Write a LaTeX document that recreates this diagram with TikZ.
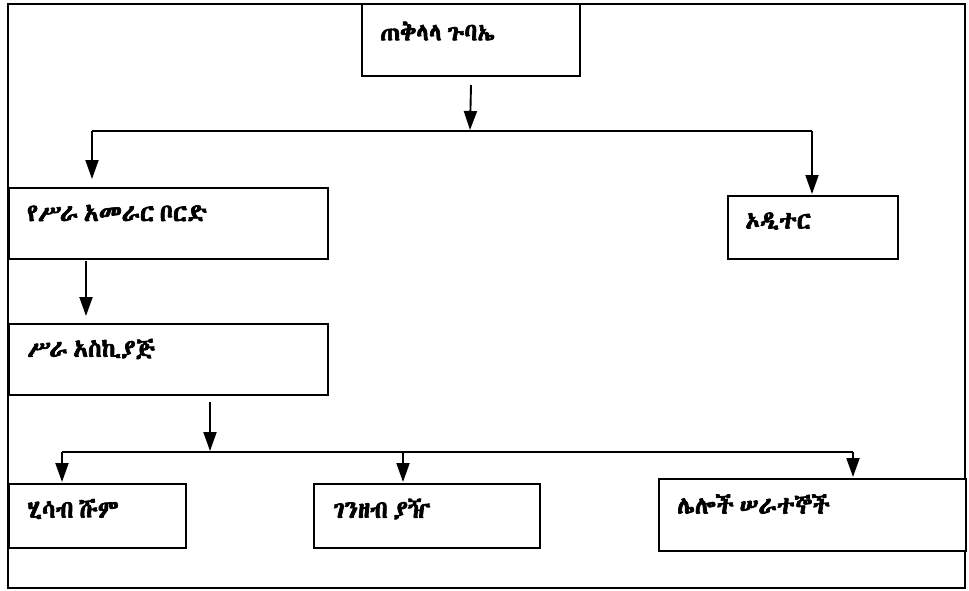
\documentclass[tikz,border=0pt]{standalone}
\usepackage{fontspec}
\IfFontExistsTF{Abyssinica SIL}
  {\newfontfamily\ethfont[FakeBold=2.8,WordSpace=0.5]{Abyssinica SIL}}
  {\IfFontExistsTF{NotoSansEthiopic-Bold.ttf}
    {\newfontfamily\ethfont{NotoSansEthiopic-Bold.ttf}}
    {\newfontfamily\ethfont{Noto Sans Ethiopic}}}
\usetikzlibrary{arrows.meta,calc}
\tikzset{
  box/.style={draw=black, line width=2pt, fill=white, inner sep=0pt, anchor=north west},
  lbl/.style={anchor=west, inner sep=0pt, font=\ethfont\fontsize{24.5}{28}\selectfont},
  conn/.style={draw=black, line width=1.9pt},
  arr/.style={conn, -{Triangle[length=19pt,width=13pt]}}
}
\begin{document}
\begin{tikzpicture}[x=1pt,y=-1pt]
\useasboundingbox (0,0) rectangle (969,590);
\fill[white] (0,0) rectangle (969,590);
\draw[line width=1.8pt] (8,4) rectangle (965,588);
% boxes
\node[box, minimum width=218pt, minimum height=72pt] (b1) at (361,3) {};
\node[box, minimum width=319pt, minimum height=71pt] (b2) at (8,187) {};
\node[box, minimum width=170pt, minimum height=63pt] (b3) at (727,195) {};
\node[box, minimum width=319pt, minimum height=71pt] (b4) at (8,323) {};
\node[box, minimum width=177pt, minimum height=64pt] (b5) at (8,483) {};
\node[box, minimum width=226pt, minimum height=64pt] (b6) at (313,483) {};
\node[box, minimum width=307pt, minimum height=72pt] (b7) at (658,478) {};
% labels
\node[lbl] (t1) at ($(b1.north west)+(19,28)$) {ጠቅላላ ጉባኤ};
\node[lbl] (t2) at ($(b2.north west)+(19,26)$) {የሥራ አመራር ቦርድ};
\node[lbl] (t3) at ($(b3.north west)+(18,26)$) {ኦዲተር};
\node[lbl] (t4) at ($(b4.north west)+(19,26)$) {ሥራ አስኪያጅ};
\node[lbl] (t5) at ($(b5.north west)+(19,26)$) {ሂሳብ ሹም};
\node[lbl] (t6) at ($(b6.north west)+(20,26)$) {ገንዘብ ያዥ};
\node[lbl] (t7) at ($(b7.north west)+(19,26)$) {ሌሎች ሠራተኞች};
% junctions
\coordinate (j1) at (470,131);
\coordinate (jl) at (92,131);
\coordinate (jr) at (812,131);
\coordinate (j2) at (210,452);
\coordinate (kl) at (62,452);
\coordinate (km) at (403,452);
\coordinate (kr) at (853,452);
% connectors
\draw[arr] ($(b1.south)+(0,8)$) -- ($(j1)+(0,-1)$);
\draw[conn] (jl) -- (jr);
\draw[arr] (jl) -- ($(jl |- b2.north)+(0,-8)$);
\draw[arr] (jr) -- ($(jr |- b3.north)+(0,-1)$);
\draw[arr] ($(b2.south west)+(78,1)$) -- ($(b4.north west)+(78,-7)$);
\draw[arr] ($(j2 |- b4.south)+(0,6)$) -- ($(j2)+(0,-1)$);
\draw[conn] (kl) -- (kr);
\draw[arr] (kl) -- ($(kl |- b5.north)+(0,-1)$);
\draw[arr] (km) -- ($(km |- b6.north)+(0,-1)$);
\draw[arr] (kr) -- ($(kr |- b7.north)+(0,-1)$);
\end{tikzpicture}
\end{document}
